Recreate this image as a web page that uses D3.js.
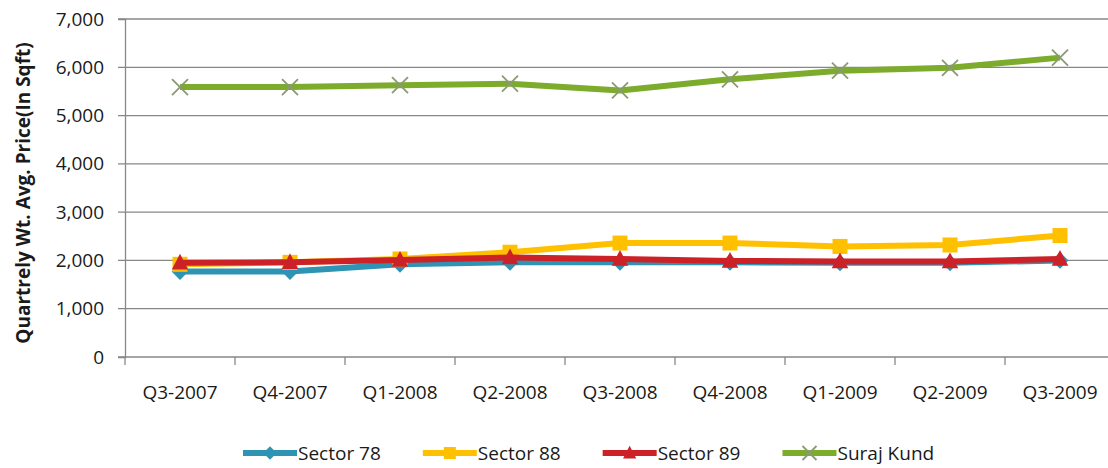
<!DOCTYPE html>
<html>
<head>
<meta charset="utf-8">
<script src="https://cdn.jsdelivr.net/npm/d3@7"></script>
<style>
  body { margin: 0; background: #fff; }
  svg { display: block; font-family: "Open Sans", sans-serif; }
</style>
</head>
<body>
<figure id="line" style="margin:0"></figure>
<script>
// chart data
const quarters = ["Q3-2007", "Q4-2007", "Q1-2008", "Q2-2008", "Q3-2008", "Q4-2008", "Q1-2009", "Q2-2009", "Q3-2009"];
const sector78 = [1770, 1770, 1920, 1960, 1960, 1960, 1950, 1950, 2000];
const sector88 = [1920, 1960, 2030, 2170, 2360, 2360, 2290, 2320, 2515];
const sector89 = [1950, 1960, 2010, 2060, 2030, 1990, 1980, 1980, 2030];
const surajKund = [5590, 5590, 5630, 5660, 5520, 5750, 5930, 5990, 6200];
const yTicks = [0, 1000, 2000, 3000, 4000, 5000, 6000, 7000];

const series = [
  { name: "Sector 78", values: sector78, color: "#2f93b3", marker: "diamond" },
  { name: "Sector 88", values: sector88, color: "#ffc000", marker: "square" },
  { name: "Sector 89", values: sector89, color: "#cd2128", marker: "triangle" },
  { name: "Suraj Kund", values: surajKund, color: "#7dab2b", marker: "cross" }
];

const width = 1108, height = 468;
const plotLeft = 125, plotRight = 1115, plotTop = 19, plotBottom = 357;

const svg = d3.select("figure#line")
  .append("svg")
  .attr("width", width)
  .attr("height", height);

const x = d3.scaleBand().domain(quarters).range([plotLeft, plotRight]);
const y = d3.scaleLinear().domain([0, 7000]).range([plotBottom, plotTop]);
const cx = d => x(d) + x.bandwidth() / 2;

// gridlines
svg.append("g")
  .selectAll("line")
  .data(yTicks)
  .enter()
  .append("line")
  .attr("x1", plotLeft - 7)
  .attr("x2", plotRight)
  .attr("y1", d => y(d))
  .attr("y2", d => y(d))
  .attr("stroke", "#878787")
  .attr("stroke-width", 1.3);

// y axis
svg.append("g")
  .attr("transform", "translate(" + plotLeft + ",0)")
  .call(d3.axisLeft(y).tickValues(yTicks).tickFormat(d3.format(",")).tickSize(7).tickPadding(14))
  .call(g => g.select(".domain").attr("stroke", "#878787").attr("stroke-width", 1.3))
  .call(g => g.selectAll(".tick line").attr("stroke", "none"))
  .call(g => g.selectAll("text").attr("font-size", 19).attr("fill", "#1a1a1a").attr("font-family", "Open Sans"));

// x axis
svg.append("g")
  .attr("transform", "translate(0," + plotBottom + ")")
  .call(d3.axisBottom(x).tickSize(0).tickPadding(29))
  .call(g => g.select(".domain").remove())
  .call(g => g.selectAll("text").attr("font-size", 19).attr("fill", "#1a1a1a").attr("font-family", "Open Sans"));

svg.append("g")
  .selectAll("line")
  .data(quarters.map(q => x(q)).concat([plotRight]))
  .enter()
  .append("line")
  .attr("x1", d => d)
  .attr("x2", d => d)
  .attr("y1", plotBottom)
  .attr("y2", plotBottom + 8)
  .attr("stroke", "#878787")
  .attr("stroke-width", 1.3);

// y axis label
svg.append("text")
  .attr("transform", "translate(30," + 193 + ") rotate(-90)")
  .attr("text-anchor", "middle")
  .attr("font-size", 19)
  .attr("font-weight", "bold")
  .attr("fill", "#1a1a1a")
  .text("Quartrely Wt. Avg. Price(In Sqft)");

function drawMarker(g, type, color, size) {
  if (type === "diamond") {
    g.append("path").attr("d", d3.symbol(d3.symbolDiamond2, size * size * 0.8)).attr("fill", color);
  } else if (type === "square") {
    g.append("rect").attr("x", -size / 2).attr("y", -size / 2).attr("width", size).attr("height", size).attr("fill", color);
  } else if (type === "triangle") {
    g.append("path").attr("d", "M0," + (-size * 0.6) + "L" + (size * 0.55) + "," + (size * 0.45) + "L" + (-size * 0.55) + "," + (size * 0.45) + "Z").attr("fill", color);
  } else {
    const s = size / 2;
    g.append("path").attr("d", "M" + -s + "," + -s + "L" + s + "," + s + "M" + s + "," + -s + "L" + -s + "," + s)
      .attr("stroke", "#8a9a72").attr("stroke-width", 1.8).attr("fill", "none");
  }
}

const line = d3.line()
  .x((d, i) => cx(quarters[i]))
  .y(d => y(d));

// lines and markers
series.forEach(s => {
  svg.append("path")
    .datum(s.values)
    .attr("d", line)
    .attr("fill", "none")
    .attr("stroke", s.color)
    .attr("stroke-width", 6)
    .attr("stroke-linejoin", "round");

  s.values.forEach((v, i) => {
    const g = svg.append("g").attr("transform", "translate(" + cx(quarters[i]) + "," + y(v) + ")");
    drawMarker(g, s.marker, s.color, s.marker === "cross" ? 16 : 15);
  });
});

// legend
const legend = svg.append("g").attr("transform", "translate(243,453)");
let lx = 0;
series.forEach(s => {
  const item = legend.append("g").attr("transform", "translate(" + lx + ",0)");
  item.append("line")
    .attr("x1", 0).attr("x2", 54)
    .attr("y1", 0).attr("y2", 0)
    .attr("stroke", s.color)
    .attr("stroke-width", 6);
  const m = item.append("g").attr("transform", "translate(27,0)");
  drawMarker(m, s.marker, s.color, s.marker === "cross" ? 14 : 12);
  const t = item.append("text")
    .attr("x", 55)
    .attr("y", 7)
    .attr("font-size", 19)
    .attr("fill", "#1a1a1a")
    .text(s.name);
  lx += 55 + t.node().getComputedTextLength() + 42;
});
</script>
</body>
</html>
